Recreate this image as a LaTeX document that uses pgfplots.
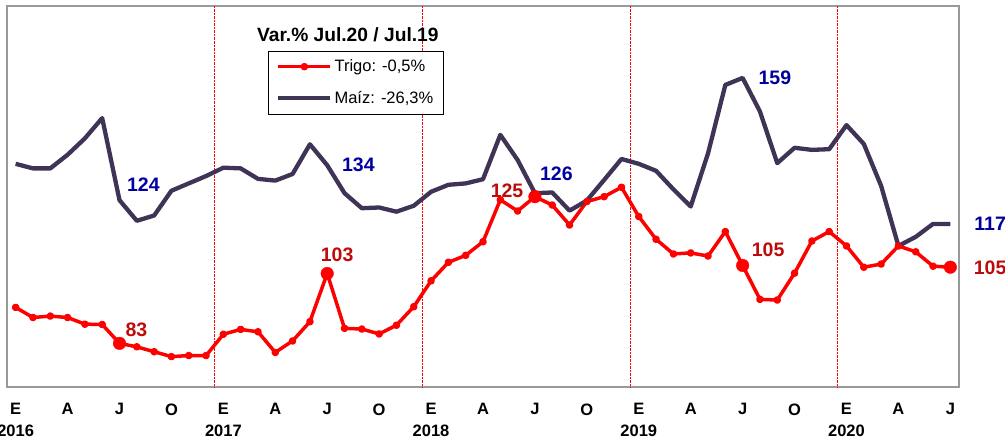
\documentclass[border=0pt]{standalone}
\usepackage{pgfplots}
\pgfplotsset{compat=1.18}
\usepackage{fontspec}
\setmainfont{Liberation Sans}
\definecolor{maiz}{RGB}{64,52,86}
\definecolor{lblred}{RGB}{190,10,10}
\definecolor{lblblue}{RGB}{0,0,160}
\begin{document}
\begin{tikzpicture}
\begin{axis}[
  name=ax,
  scale only axis,
  width=952bp, height=381bp,
  xmin=-0.5, xmax=54.5,
  ymin=70.5, ymax=179.6,
  clip=false,
  axis line style={draw=gray!80, line width=2bp},
  ytick=\empty,
  xtick={0,3,...,54},
  xticklabels={E\\[5.5bp]2016,A,J,O,E\\[5.5bp]2017,A,J,O,E\\[5.5bp]2018,A,J,O,E\\[5.5bp]2019,A,J,O,E\\[5.5bp]2020,A,J},
  xticklabel style={align=center, font=\bfseries\fontsize{16.5bp}{16.5bp}\selectfont, yshift=-13bp},
  major tick length=0pt,
  extra x ticks={11.5,23.5,35.5,47.5},
  extra x tick labels={},
  extra x tick style={grid=major, major grid style={red, densely dotted, line width=0.8bp}, major tick length=0pt},
  legend style={at={(0.274,0.883)}, anchor=north west, draw=black, line width=0.8bp,
    font=\fontsize{16.5bp}{19bp}\selectfont, row sep=14bp, inner xsep=8bp, inner ysep=7bp,
    nodes={inner sep=2bp, font=\fontsize{16.5bp}{19bp}\selectfont}},
  legend cell align=left,
  legend image code/.code={\draw[mark repeat=2,mark phase=2,#1] plot coordinates {(0bp,0bp) (26bp,0bp) (52bp,0bp)};},
]
\addplot[red, line width=3.5bp, line join=round, mark=*, mark size=2bp, mark options={solid, fill=red}]
coordinates {
(0,93.3)(1,90.4)(2,90.8)(3,90.4)(4,88.5)(5,88.4)(6,83)(7,82.0)(8,80.6)(9,79.2)(10,79.5)(11,79.5)
(12,85.6)(13,87.0)(14,86.3)(15,80.4)(16,83.7)(17,89.2)(18,103)(19,87.3)(20,87.1)(21,85.7)(22,88.2)(23,93.5)
(24,100.9)(25,106.2)(26,108.2)(27,112.1)(28,124.1)(29,120.9)(30,125)(31,122.6)(32,116.9)(33,123.6)(34,125.0)(35,127.7)
(36,119.3)(37,112.8)(38,108.6)(39,108.9)(40,108.0)(41,115.0)(42,105.3)(43,95.6)(44,95.4)(45,103.1)(46,112.3)(47,115.0)
(48,110.9)(49,104.8)(50,105.7)(51,110.9)(52,109.2)(53,105.1)(54,104.8)
};
\addlegendentry{Trigo: -0,5\%}
\addplot[maiz, line width=4.3bp, line join=round, no markers]
coordinates {
(0,134.4)(1,133.1)(2,133.1)(3,137.0)(4,141.7)(5,147.5)(6,124)(7,118.1)(8,119.6)(9,126.7)(10,128.8)(11,130.9)
(12,133.3)(13,133.1)(14,130.1)(15,129.6)(16,131.5)(17,140.0)(18,134)(19,126.0)(20,121.7)(21,121.9)(22,120.7)(23,122.4)
(24,126.4)(25,128.4)(26,128.8)(27,130.0)(28,142.7)(29,135.5)(30,126)(31,126.2)(32,121.0)(33,123.9)(34,129.8)(35,135.8)
(36,134.4)(37,132.4)(38,127.1)(39,122.2)(40,137.4)(41,157.0)(42,159)(43,149.4)(44,134.6)(45,139.0)(46,138.4)(47,138.6)
(48,145.5)(49,140.1)(50,128.1)(51,110.9)(52,113.5)(53,117.2)(54,117.2)
};
\addlegendentry{Maíz: -26,3\%}
\addplot[red, only marks, mark=*, mark size=6.3bp, forget plot]
coordinates {(6,83)(18,103)(30,125)(42,105.3)(54,104.8)};
% data labels
\begin{scope}[every node/.style={font=\bfseries\fontsize{19.5bp}{22bp}\selectfont, inner sep=0pt}]
\node[text=lblblue] at (axis cs:7.38,128.4) {124};
\node[text=lblblue] at (axis cs:19.8,134.1) {134};
\node[text=lblblue] at (axis cs:31.24,131.6) {126};
\node[text=lblblue] at (axis cs:43.86,159.1) {159};
\node[text=lblblue] at (axis cs:56.3,117.1) {117};
\node[text=lblred] at (axis cs:6.98,86.8) {83};
\node[text=lblred] at (axis cs:18.57,108.4) {103};
\node[text=lblred] at (axis cs:28.39,126.8) {125};
\node[text=lblred] at (axis cs:43.47,109.7) {105};
\node[text=lblred] at (axis cs:56.3,104.7) {105};
\end{scope}
\node[font=\bfseries\fontsize{19.2bp}{22bp}\selectfont] at (rel axis cs:0.358,0.924) {Var.\% Jul.20 / Jul.19};
\end{axis}
\pgfresetboundingbox
\path ([xshift=-7bp,yshift=-57bp]ax.south west) rectangle ([xshift=46bp,yshift=6bp]ax.north east);
\end{tikzpicture}
\end{document}
